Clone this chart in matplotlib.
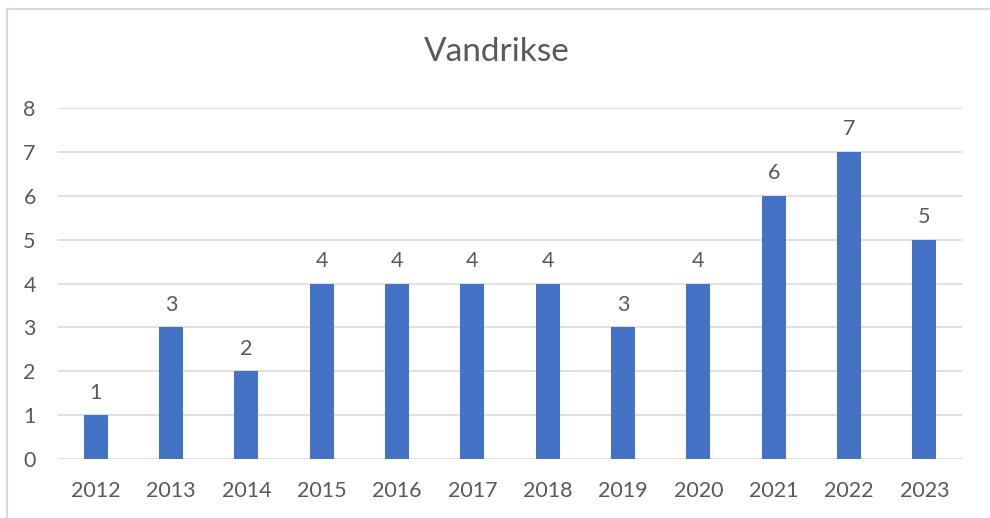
import matplotlib
matplotlib.use("Agg")
import matplotlib.pyplot as plt
from matplotlib.lines import Line2D

years = ["2012", "2013", "2014", "2015", "2016", "2017", "2018", "2019", "2020", "2021", "2022", "2023"]
values = [1, 3, 2, 4, 4, 4, 4, 3, 4, 6, 7, 5]
yticks = [0, 1, 2, 3, 4, 5, 6, 7, 8]

plt.rcParams['font.family'] = ['Lato', 'DejaVu Sans']
txt = '#595959'
fig = plt.figure(figsize=(9.9, 5.18), dpi=100)
bx = 6.5 / 990
by = 1 - 8.5 / 518
fig.add_artist(Line2D([bx, bx], [0, by], transform=fig.transFigure, color='#D9D9D9', linewidth=1.5))
fig.add_artist(Line2D([bx, 1], [by, by], transform=fig.transFigure, color='#D9D9D9', linewidth=1.5))
ax = fig.add_axes([58/990, (518-459)/518, (962-58)/990, (459-108)/518])
x = list(range(len(years)))
bars = ax.bar(x, values, width=0.32, color='#4472C4', zorder=3)
ax.set_xlim(-0.5, len(years) - 0.5)
ax.set_ylim(0, 8)
ax.set_yticks(yticks)
ax.set_xticks(x)
ax.set_xticklabels(years)
ax.grid(axis='y', color='#D9D9D9', linewidth=1.2, zorder=0)
for s in ax.spines.values():
    s.set_visible(False)
ax.tick_params(axis='both', length=0, labelsize=15.5, colors=txt)
ax.tick_params(axis='x', pad=16)
ax.tick_params(axis='y', pad=16)
for xi, v in zip(x, values):
    ax.annotate(str(v), (xi, v), xytext=(0, 9), textcoords='offset points',
                ha='center', va='bottom', fontsize=15.5, color=txt)
fig.text(497/990, 1 - 52/518, "Vandrikse", ha='center', va='center', fontsize=24, color=txt)
fig.savefig("out.png", dpi=100)
